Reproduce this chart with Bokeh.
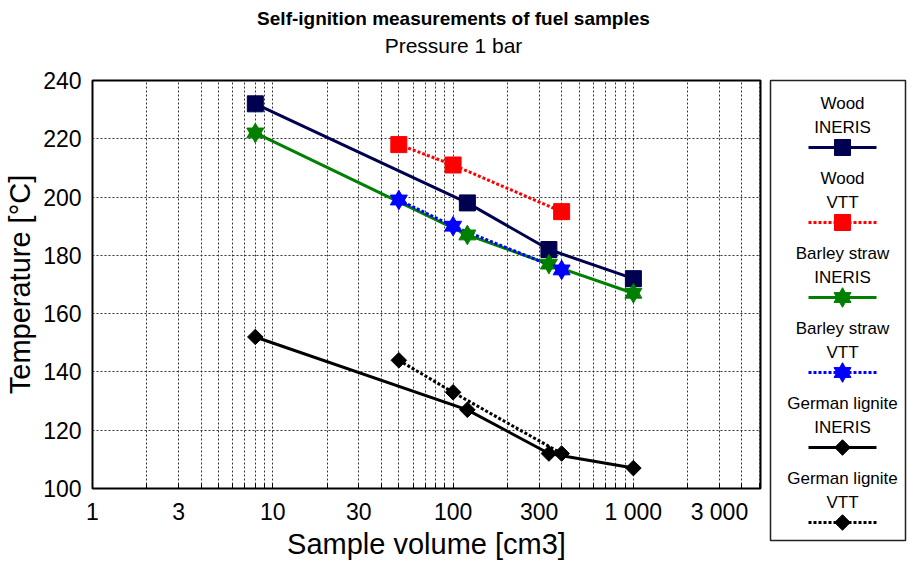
import math
from bokeh.plotting import figure
from bokeh.layouts import row, column
from bokeh.models import Range1d, FixedTicker, ColumnDataSource
from bokeh.core.properties import value
from bokeh.embed import file_html
from bokeh.resources import INLINE

FONT = "Liberation Sans"

# ---- data ----
wood_ineris_x = [8, 120, 340, 1000]
wood_ineris_y = [232, 198, 182, 172]
wood_vtt_x = [50, 100, 400]
wood_vtt_y = [218, 211, 195]
barley_ineris_x = [8, 120, 340, 1000]
barley_ineris_y = [222, 187, 177, 167]
barley_vtt_x = [50, 100, 400]
barley_vtt_y = [199, 190, 175]
lignite_ineris_x = [8, 120, 340, 1000]
lignite_ineris_y = [152, 127, 112, 107]
lignite_vtt_x = [50, 100, 400]
lignite_vtt_y = [144, 133, 112]

x_ticks = [1, 3, 10, 30, 100, 300, 1000, 3000]
x_tick_labels = ["1", "3", "10", "30", "100", "300", "1 000", "3 000"]
y_ticks = [100, 120, 140, 160, 180, 200, 220, 240]

title_text = "Self-ignition measurements of fuel samples"
subtitle_text = "Pressure 1 bar"
series_names = [("Wood", "INERIS"), ("Wood", "VTT"),
                ("Barley straw", "INERIS"), ("Barley straw", "VTT"),
                ("German lignite", "INERIS"), ("German lignite", "VTT")]

NAVY = "#000050"
styles = [
    dict(color=NAVY, dash="solid", marker="square"),
    dict(color="#ff0000", dash="3 2", marker="square"),
    dict(color="#008000", dash="solid", marker="star6"),
    dict(color="#0000ff", dash="3 2", marker="star6"),
    dict(color="#000000", dash="solid", marker="diamond"),
    dict(color="#000000", dash="3 2", marker="diamond"),
]
series = [
    (wood_ineris_x, wood_ineris_y), (wood_vtt_x, wood_vtt_y),
    (barley_ineris_x, barley_ineris_y), (barley_vtt_x, barley_vtt_y),
    (lignite_ineris_x, lignite_ineris_y), (lignite_vtt_x, lignite_vtt_y),
]

TOP = 60  # height of the title strip

# ---- title strip ----
tf = figure(width=908, height=TOP, x_range=Range1d(0, 908), y_range=Range1d(TOP, 0),
            output_backend="svg", toolbar_location=None,
            min_border_left=0, min_border_right=0, min_border_top=0,
            min_border_bottom=0)
tf.axis.visible = False
tf.grid.visible = False
tf.outline_line_color = None
tf.text([453], [18], text=[title_text], text_align="center", text_baseline="middle",
        text_font=value(FONT), text_font_size="19px", text_font_style="bold",
        text_color="black")
tf.text([453], [45], text=[subtitle_text], text_align="center", text_baseline="middle",
        text_font=value(FONT), text_font_size="21px", text_color="black")

# ---- main plot ----
p = figure(width=768, height=564 - TOP, x_axis_type="log",
           x_range=Range1d(1, 5070), y_range=Range1d(100, 240),
           output_backend="svg", toolbar_location=None, title=None,
           min_border_left=92, min_border_right=8,
           min_border_top=80 - TOP, min_border_bottom=76)

minor = []
for d in [1, 10, 100, 1000]:
    for m in range(2, 10):
        v = d * m
        if v not in x_ticks and v < 5070:
            minor.append(v)
p.xaxis.ticker = FixedTicker(ticks=x_ticks, minor_ticks=minor)
p.xaxis.major_label_overrides = {t: l for t, l in zip(x_ticks, x_tick_labels)}
p.yaxis.ticker = FixedTicker(ticks=y_ticks)

for ax in [p.xaxis[0], p.yaxis[0]]:
    ax.axis_line_color = None
    ax.major_tick_in = 5
    ax.major_tick_out = 0
    ax.minor_tick_in = 5
    ax.minor_tick_out = 0
    ax.major_tick_line_color = "black"
    ax.minor_tick_line_color = "black"
    ax.major_label_text_font = FONT
    ax.major_label_text_font_size = "23px"
    ax.major_label_text_color = "black"
    ax.axis_label_text_font = FONT
    ax.axis_label_text_font_size = "29px"
    ax.axis_label_text_font_style = "normal"
    ax.axis_label_text_color = "black"
p.yaxis.minor_tick_line_color = None
p.yaxis.major_tick_in = 0
p.xaxis.axis_label = "Sample volume [cm3]"
p.yaxis.axis_label = "Temperature [°C]"
p.xaxis.major_label_standoff = 10
p.yaxis.major_label_standoff = 11
p.xaxis.axis_label_standoff = 0
p.yaxis.axis_label_standoff = 4

for g in [p.xgrid[0], p.ygrid[0]]:
    g.grid_line_color = "#333333"
    g.grid_line_dash = "2 2"
    g.grid_line_width = 1
p.xgrid.minor_grid_line_color = "#333333"
p.xgrid.minor_grid_line_dash = "2 2"

p.outline_line_color = "black"
p.outline_line_width = 2
p.background_fill_color = "white"
p.border_fill_color = "white"


def draw_marker(fig, x, y, st):
    src = ColumnDataSource(dict(x=x, y=y))
    c = st["color"]
    if st["marker"] == "square":
        fig.scatter("x", "y", source=src, marker="square", size=16,
                    fill_color=c, line_color=c)
    elif st["marker"] == "diamond":
        fig.scatter("x", "y", source=src, marker="square", size=11,
                    angle=math.pi / 4, fill_color=c, line_color=c)
    else:
        fig.scatter("x", "y", source=src, marker="triangle", size=17,
                    fill_color=c, line_color=c)
        fig.scatter("x", "y", source=src, marker="inverted_triangle", size=17,
                    fill_color=c, line_color=c)


for (xs, ys), st in zip(series, styles):
    p.line(xs, ys, line_color=st["color"], line_width=3, line_dash=st["dash"])
for (xs, ys), st in zip(series, styles):
    draw_marker(p, xs, ys, st)

# ---- legend panel ----
lg = figure(width=140, height=564 - TOP, x_range=Range1d(0, 135), y_range=Range1d(460, 0),
            output_backend="svg", toolbar_location=None,
            min_border_left=2, min_border_right=3, min_border_top=80 - TOP,
            min_border_bottom=24)
lg.axis.visible = False
lg.grid.visible = False
lg.outline_line_color = "#222222"
lg.outline_line_width = 1.5

step = 75
l1 = [23 + step * i for i in range(len(series_names))]
l2 = [47 + step * i for i in range(len(series_names))]
ls = [67 + step * i for i in range(len(series_names))]
cx = 72
lg.text([cx] * len(l1), l1, text=[n[0] for n in series_names],
        text_align="center", text_baseline="middle",
        text_font=value(FONT), text_font_size="17px", text_color="black")
lg.text([cx] * len(l2), l2, text=[n[1] for n in series_names],
        text_align="center", text_baseline="middle",
        text_font=value(FONT), text_font_size="17px", text_color="black")
for i, st in enumerate(styles):
    lg.line([cx - 34, cx + 34], [ls[i], ls[i]], line_color=st["color"],
            line_width=3, line_dash=st["dash"])
    draw_marker(lg, [cx], [ls[i]], st)

layout = column(column(tf), row(p, column(lg), spacing=0), spacing=0)
open("out.html", "w").write(file_html(layout, INLINE))
